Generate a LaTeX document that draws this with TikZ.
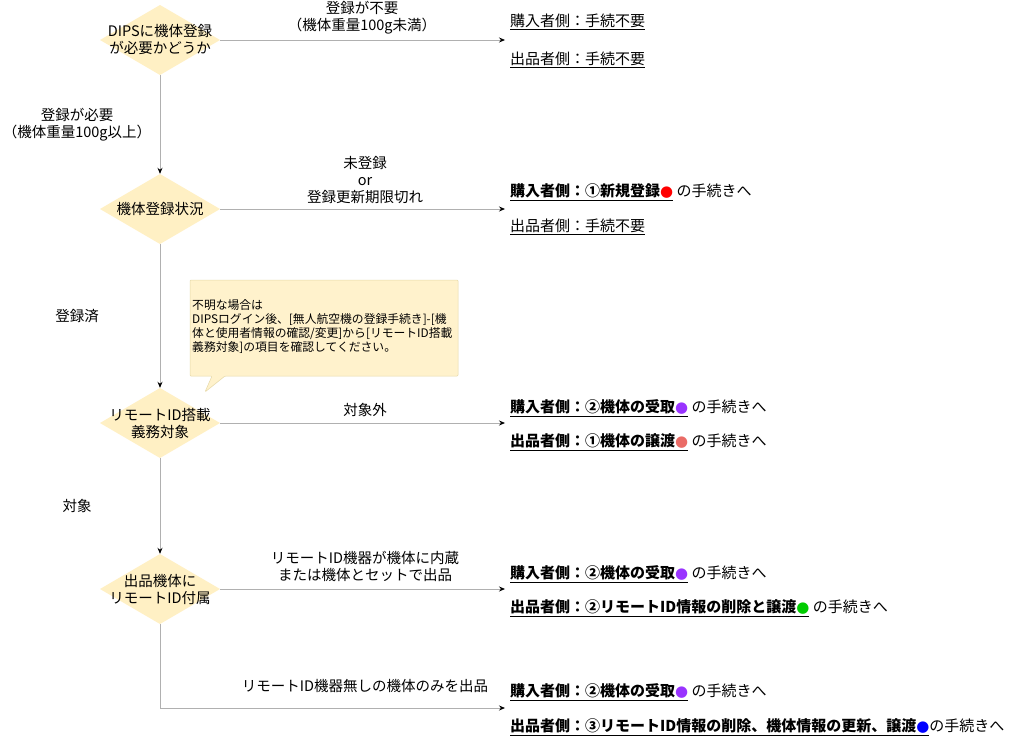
\documentclass[tikz,border=0pt]{standalone}
\usepackage{fontspec}
\setmainfont{Noto Sans CJK JP}
\newfontfamily\dejafont{DejaVu Sans}
\usetikzlibrary{arrows.meta,calc}
\definecolor{dfill}{HTML}{FFF0C4}
\definecolor{cfill}{HTML}{FFF2CC}
\definecolor{cline}{HTML}{E6D9A8}
\definecolor{lgray}{HTML}{B0B0B0}
\definecolor{cpur}{HTML}{9933FF}
\definecolor{csal}{HTML}{EA6B66}
\definecolor{cgrn}{HTML}{00CC00}
\newcommand{\dotc}[1]{{\dejafont\textcolor{#1}{●}}}
\newcommand{\dshape}[1]{\fill[dfill] ($(#1)+(-60,0)$) -- ($(#1)+(0,-35)$) -- ($(#1)+(60,0)$) -- ($(#1)+(0,35)$) -- cycle;}
\tikzset{
  dec/.style={rectangle,minimum width=120pt,minimum height=70pt,inner sep=0pt,align=center,font=\fontsize{14.5}{17}\selectfont},
  lbl/.style={align=center,font=\fontsize{14.5}{17}\selectfont},
  res/.style={anchor=west,font=\fontsize{15}{17}\selectfont,inner sep=0pt},
  conn/.style={draw=lgray,line width=0.8pt,-{Stealth[length=6pt,width=5pt,black]}},
}
\begin{document}
\begin{tikzpicture}[x=1pt,y=-1pt]
\useasboundingbox (0,0) rectangle (1024,744);
\fill[white] (0,0) rectangle (1024,744);
\dshape{160,40}\dshape{160,209}\dshape{160,423}\dshape{160,589}
\node[dec] (d1) at (160,40) {DIPSに機体登録\\が必要かどうか};
\node[dec] (d2) at (160,209) {機体登録状況};
\node[dec] (d3) at (160,423) {リモートID搭載\\義務対象};
\node[dec] (d4) at (160,589) {出品機体に\\リモートID付属};
\coordinate (e1) at (505,40);
\coordinate (e2) at (505,209);
\coordinate (e3) at (505,423);
\coordinate (e4) at (505,589);
\coordinate (e5) at (505,708);
\coordinate (k5) at (160,708);
\draw[conn] (d1.east) -- (e1);
\draw[conn] (d2.east) -- (e2);
\draw[conn] (d3.east) -- (e3);
\draw[conn] (d4.east) -- (e4);
\draw[conn] (d1.south) -- (d2.north);
\draw[conn] (d2.south) -- (d3.north);
\draw[conn] (d3.south) -- (d4.north);
\draw[conn] (d4.south) -- (k5) -- (e5);
\node[lbl] (l1) at (362,18) {登録が不要\\（機体重量100g未満）};
\node[lbl] (l2) at (77,125) {登録が必要\\（機体重量100g以上）};
\node[lbl] (l3) at (365,180) {未登録\\or\\登録更新期限切れ};
\node[lbl] (l4) at (77,316) {登録済};
\node[lbl] (l5) at (365,410) {対象外};
\node[lbl] (l6) at (77,506) {対象};
\node[lbl] (l7) at (365,566) {リモートID機器が機体に内蔵\\または機体とセットで出品};
\node[lbl] (l8) at (365,686) {リモートID機器無しの機体のみを出品};
\node[res] (r1) at (510,22) {\underline{購入者側：手続不要}};
\node[res] (r2) at (510,60) {\underline{出品者側：手続不要}};
\node[res] (r3) at (510,192) {\underline{\bfseries 購入者側：①新規登録\dotc{red}}\ の手続きへ};
\node[res] (r4) at (510,227) {\underline{出品者側：手続不要}};
\node[res] (r5) at (510,408) {\underline{\bfseries 購入者側：②機体の受取\dotc{cpur}}\ の手続きへ};
\node[res] (r6) at (510,442) {\underline{\bfseries 出品者側：①機体の譲渡\dotc{csal}}\ の手続きへ};
\node[res] (r7) at (510,574) {\underline{\bfseries 購入者側：②機体の受取\dotc{cpur}}\ の手続きへ};
\node[res] (r8) at (510,608) {\underline{\bfseries 出品者側：②リモートID情報の削除と譲渡\dotc{cgrn}}\ の手続きへ};
\node[res] (r9) at (510,692) {\underline{\bfseries 購入者側：②機体の受取\dotc{cpur}}\ の手続きへ};
\node[res] (r10) at (510,727) {\underline{\bfseries 出品者側：③リモートID情報の削除、機体情報の更新、譲渡\dotc{blue}}の手続きへ};
\draw[fill=cfill,draw=cline,line width=0.5pt,rounded corners=1pt] (190,280) -- (458,280) -- (458,376) -- (225,376) -- (205,392) -- (212,376) -- (190,376) -- cycle;
\node[anchor=north west,align=left,inner sep=0pt,font=\fontsize{11.8}{14}\selectfont] (callout) at (192,299) {不明な場合は\\DIPSログイン後、[無人航空機の登録手続き]-[機\\体と使用者情報の確認/変更]から[リモートID搭載\\義務対象]の項目を確認してください。};
\end{tikzpicture}
\end{document}
